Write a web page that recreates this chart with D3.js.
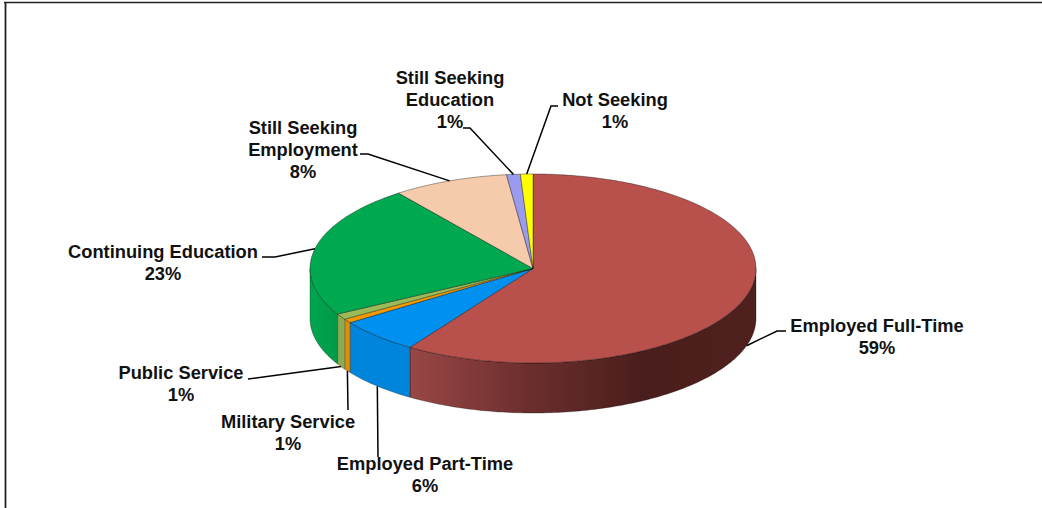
<!DOCTYPE html>
<html><head><meta charset="utf-8">
<style>html,body{margin:0;padding:0;background:#fff}svg{display:block}
text{font-family:"Liberation Sans",Arial,sans-serif;font-weight:700;font-size:18.3px;fill:#111}</style>
<script src="https://cdn.jsdelivr.net/npm/d3@7"></script></head><body>
<svg id="c" width="1042" height="508"></svg>
<script>
const categories=["Employed Full-Time","Employed Part-Time","Military Service","Public Service","Continuing Education","Still Seeking Employment","Still Seeking Education","Not Seeking"];
const shareEstimates=[59.3,6.0,0.7,1.0,22.7,8.4,1.0,0.9];
const shareLabels=["59%","6%","1%","1%","23%","8%","1%","1%"];
const topColors=["#b8504c","#0090f0","#f29a00","#9bbb59","#00a84f","#f6cbac","#9a9aee","#ffff00"];
const sideColors=[["#984745","#6d2f2e","#4a1e1c","#4f201e"],["#0085dd","#0085dd"],["#e08e00","#e08e00"],["#8fab50","#8fab50"],["#00a54f","#009a49"],["#e8bd9f","#e8bd9f"],["#8c8cdc","#8c8cdc"],["#eeee00","#eeee00"]];
// label layout: text lines with centre x / first baseline y, leader elbow points
const labelLines=[["Employed Full-Time"],["Employed Part-Time"],["Military Service"],["Public Service"],["Continuing Education"],["Still Seeking","Employment"],["Still Seeking","Education"],["Not Seeking"]];
const labelAnchors=[[877,332],[425,470],[288,428],[181,379],[163,258],[303,134],[450,84],[615,106]];
const leaderElbows=[[[777,331],[786,331]],[[378,457]],[[348,410]],[[248,379]],[[275,257],[262,257]],[[368,154],[360,154]],[[470,128],[463,128]],[[551,106],[558,106]]];

const svg=d3.select("#c");
const cx=533,cy=268.5,rx=223,ry=94.5,depth=50;
const defs=svg.append("defs");
const xScale=d3.scaleLinear().domain([-1,1]).range([cx-rx,cx+rx]);
const yScale=d3.scaleLinear().domain([-1,1]).range([cy-ry,cy+ry]);
const px=a=>xScale(Math.sin(a)), py=a=>yScale(-Math.cos(a));

const pie=d3.pie().sort(null).value(d=>d);
const arcs=pie(shareEstimates);

// frame (top and left only)
svg.append("line").attr("x1",4).attr("x2",1042).attr("y1",2.5).attr("y2",2.5).attr("stroke","#222").attr("stroke-width",1.6);
svg.append("line").attr("x1",5.5).attr("x2",5.5).attr("y1",2).attr("y2",508).attr("stroke","#222").attr("stroke-width",1.8);

// side walls
const area=d3.area().x(px).y0(py).y1(a=>py(a)+depth);
arcs.forEach((s,i)=>{
  const a0=Math.max(s.startAngle,Math.PI/2),a1=Math.min(s.endAngle,Math.PI*1.5);
  if(a1<=a0)return;
  const id="g"+i,stops=sideColors[i];
  const xa=px(a0),xb=px(a1);
  const g=defs.append("linearGradient").attr("id",id).attr("gradientUnits","userSpaceOnUse")
    .attr("x1",Math.min(xa,xb)).attr("x2",Math.max(xa,xb)).attr("y1",0).attr("y2",0);
  // colours are listed from the slice's left edge rightwards
  stops.forEach((c,k)=>g.append("stop").attr("offset",k/(stops.length-1)).attr("stop-color",c));
  const n=Math.max(2,Math.ceil((a1-a0)*60));
  const angles=d3.range(n+1).map(k=>a0+(a1-a0)*k/n);
  svg.append("path").attr("d",area(angles)).attr("fill",`url(#${id})`).attr("stroke","#000").attr("stroke-opacity",.35).attr("stroke-width",.8);
});

// top face
const line=d3.line().x(d=>d[0]).y(d=>d[1]);
arcs.forEach((s,i)=>{
  const n=Math.max(2,Math.ceil((s.endAngle-s.startAngle)*60));
  const pts=[[cx,cy]].concat(d3.range(n+1).map(k=>{const a=s.startAngle+(s.endAngle-s.startAngle)*k/n;return[px(a),py(a)];}));
  svg.append("path").attr("d",line(pts)+"Z").attr("fill",topColors[i]).attr("stroke","#000").attr("stroke-opacity",.45).attr("stroke-width",.8).attr("stroke-linejoin","round");
});

// leaders and labels
arcs.forEach((s,i)=>{
  const m=(s.startAngle+s.endAngle)/2;
  const lower=Math.cos(m)<0;
  const start=[px(m),py(m)+(lower?depth:0)];
  svg.append("path").attr("d",line([start].concat(leaderElbows[i]))).attr("fill","none").attr("stroke","#000").attr("stroke-width",1.5);
  const t=svg.append("text").attr("text-anchor","middle");
  const rows=labelLines[i].concat(shareLabels[i]);
  rows.forEach((r,k)=>t.append("tspan").attr("x",labelAnchors[i][0]).attr("y",labelAnchors[i][1]+k*22).text(r));
});
</script></body></html>
